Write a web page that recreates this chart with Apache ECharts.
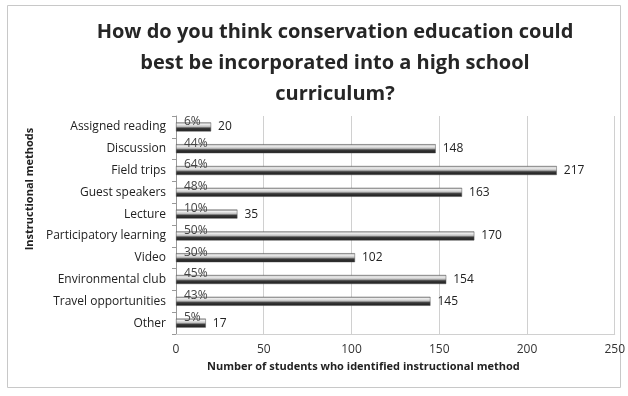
<!DOCTYPE html>
<html>
<head>
<meta charset="utf-8">
<script src="https://cdn.jsdelivr.net/npm/echarts@6/dist/echarts.min.js"></script>
<style>
  html, body { margin: 0; padding: 0; background: #fff; }
  #chart { width: 628px; height: 396px; }
</style>
</head>
<body>
<div id="chart"></div>
<script>
// Survey responses per instructional method
const categories = [
  'Assigned reading', 'Discussion', 'Field trips', 'Guest speakers', 'Lecture',
  'Participatory learning', 'Video', 'Environmental club', 'Travel opportunities', 'Other'
];
const studentCounts = [20, 148, 217, 163, 35, 170, 102, 154, 145, 17];
const percentLabels = ['6%', '44%', '64%', '48%', '10%', '50%', '30%', '45%', '43%', '5%'];
const xTicks = [0, 50, 100, 150, 200, 250];

const FONT = '"Open Sans", "DejaVu Sans", sans-serif';

const chart = echarts.init(document.getElementById('chart'), null, { renderer: 'canvas' });

// cylinder-like shading: pale top edge, dark underside
const barFill = new echarts.graphic.LinearGradient(0, 0, 0, 1, [
  { offset: 0, color: '#8a8a8a' },
  { offset: 0.2, color: '#f0f0f0' },
  { offset: 0.45, color: '#c4c4c4' },
  { offset: 0.65, color: '#3a3a3a' },
  { offset: 1, color: '#1a1a1a' }
]);

chart.setOption({
  animation: false,
  backgroundColor: '#fff',
  graphic: [{
    type: 'rect',
    shape: { x: 7.5, y: 5.5, width: 613, height: 382 },
    style: { fill: 'none', stroke: '#c8c8c8', lineWidth: 1 },
    silent: true
  }],
  title: {
    text: 'How do you think conservation education could\nbest be incorporated into a high school\ncurriculum?',
    left: 330,
    textAlign: 'center',
    top: 12,
    textStyle: {
      fontFamily: FONT,
      fontSize: 20,
      fontWeight: 'bold',
      color: '#262626',
      lineHeight: 31
    }
  },
  grid: { left: 176, right: 13, top: 116, bottom: 62, containLabel: false },
  xAxis: {
    type: 'value',
    min: xTicks[0],
    max: xTicks[xTicks.length - 1],
    interval: 50,
    name: 'Number of students who identified instructional method',
    nameLocation: 'middle',
    nameGap: 27,
    nameTextStyle: {
      fontFamily: FONT, fontSize: 11, fontWeight: 'bold', color: '#222',
      padding: [0, 64, 0, 0]
    },
    axisLine: { show: true, lineStyle: { color: '#d0d0d0', width: 1 } },
    axisTick: { show: false },
    axisLabel: { fontFamily: FONT, fontSize: 12, color: '#333', margin: 10 },
    splitLine: { show: true, lineStyle: { color: '#d0d0d0', width: 1 } }
  },
  yAxis: {
    type: 'category',
    data: categories,
    inverse: true,
    name: 'Instructional methods',
    nameLocation: 'middle',
    nameRotate: 90,
    nameGap: 141,
    nameTextStyle: {
      fontFamily: FONT, fontSize: 11, fontWeight: 'bold', color: '#222',
      padding: [0, 0, 0, 72]
    },
    axisLine: { show: true, lineStyle: { color: '#999', width: 1 } },
    axisTick: { show: true, length: 4, inside: false, lineStyle: { color: '#999' } },
    axisLabel: { fontFamily: FONT, fontSize: 12, color: '#222', margin: 10 }
  },
  series: [
    {
      type: 'bar',
      data: studentCounts,
      barWidth: 9,
      itemStyle: { color: barFill, borderColor: '#555', borderWidth: 0.5 },
      label: {
        show: true,
        position: 'right',
        distance: 7,
        fontFamily: FONT,
        fontSize: 12,
        color: '#222'
      },
      z: 2
    },
    {
      type: 'bar',
      data: studentCounts,
      barWidth: 9,
      barGap: '-100%',
      itemStyle: { color: 'rgba(0,0,0,0)' },
      label: {
        show: true,
        position: [8, -7],
        formatter: (p) => percentLabels[p.dataIndex],
        fontFamily: FONT,
        fontSize: 12,
        color: '#444'
      },
      silent: true,
      z: 3
    }
  ]
});
</script>
</body>
</html>
